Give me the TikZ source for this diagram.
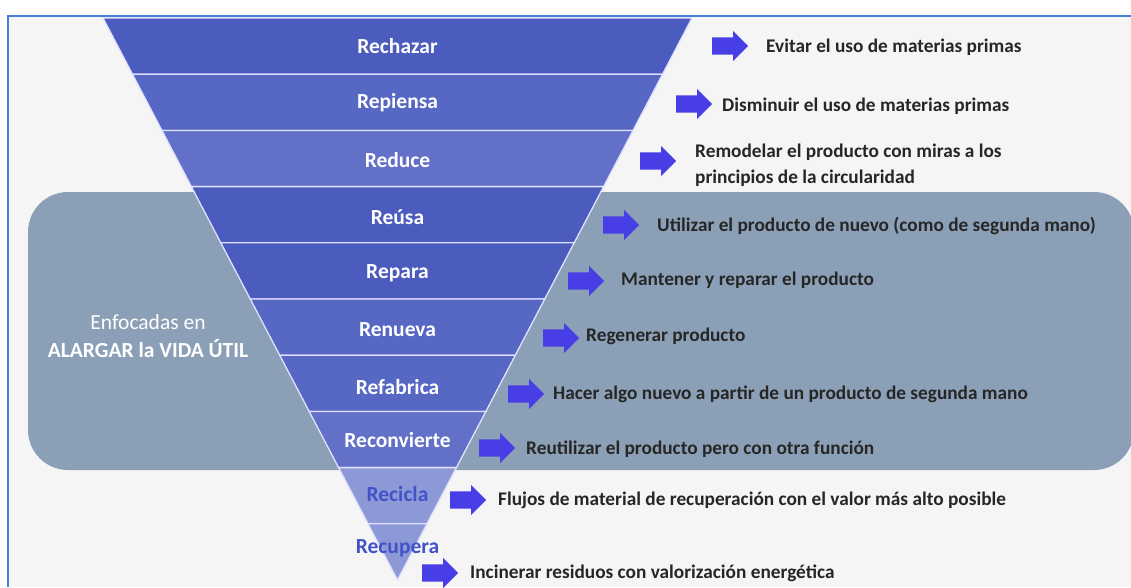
\documentclass[tikz,border=0pt]{standalone}
\usepackage{fontspec}
\setmainfont{Carlito}
\usetikzlibrary{shapes.arrows,positioning}

\definecolor{frameblue}{RGB}{74,126,216}
\definecolor{paper}{RGB}{245,245,245}
\definecolor{lifebox}{RGB}{139,160,182}
\definecolor{sliceA}{RGB}{75,92,190}
\definecolor{sliceB}{RGB}{86,103,196}
\definecolor{sliceC}{RGB}{98,112,200}
\definecolor{sliceL}{RGB}{141,152,214}
\definecolor{lowtext}{RGB}{66,82,200}
\definecolor{arrowblue}{RGB}{72,62,230}
\definecolor{inktext}{RGB}{38,38,38}

\tikzset{
	slice/.style={draw=white!88!blue, line width=1.3pt},
	stage/.style={font=\fontsize{21.5}{23}\selectfont\bfseries, text=white, inner sep=0pt},
	lowstage/.style={stage, text=lowtext},
	bigarrow/.style={single arrow, fill=arrowblue, draw=none, inner sep=8.5pt,
		single arrow head extend=6.5pt, single arrow head indent=0pt,
		minimum height=36pt, anchor=west},
	note/.style={font=\fontsize{19.3}{26.5}\selectfont\bfseries, text=inktext, inner sep=0pt, anchor=west, align=left}
}

\begin{document}
\begin{tikzpicture}[x=1pt, y=-1pt]
	% page and frame
	\useasboundingbox (0,0) rectangle (1131,587);
	\fill[white] (0,0) rectangle (1131,587);
	\fill[paper] (8,16) rectangle (1131,587);
	\draw[frameblue, line width=1.5pt] (8,587) -- (8,16) -- (1131,16);

	% grey band for the useful life group
	\fill[lifebox, rounded corners=40pt] (28,192) rectangle (1134,470);
	\node[text=white, inner sep=0pt, align=center, font=\fontsize{21.5}{28}\selectfont] (life) at (148,336)
		{Enfocadas en\\ \textbf{ALARGAR la VIDA ÚTIL}};

	% funnel slices, apex at (397.5,580)
	\foreach \i/\col in {0/sliceA,1/sliceB,2/sliceC,3/sliceA,4/sliceA,5/sliceB,6/sliceB,7/sliceC,8/sliceL}{
		\pgfmathsetmacro\ya{18+56.2*\i}
		\pgfmathsetmacro\yb{18+56.2*(\i+1)}
		\pgfmathsetmacro\wa{(580-\ya)/562*294.5}
		\pgfmathsetmacro\wb{(580-\yb)/562*294.5}
		\filldraw[slice, fill=\col] (397.5-\wa,\ya) -- (397.5+\wa,\ya) -- (397.5+\wb,\yb) -- (397.5-\wb,\yb) -- cycle;
	}
	\filldraw[slice, fill=sliceL] (368,523.8) -- (427,523.8) -- (397.5,580) -- cycle;

	% stage names
	\node[stage] (rechazar) at (397.5,46) {Rechazar};
	\node[stage] (repiensa) at (397.5,103) {Repiensa};
	\node[stage] (reduce) at (397.5,160) {Reduce};
	\node[stage] (reusa) at (397.5,217) {Reúsa};
	\node[stage] (repara) at (397.5,273) {Repara};
	\node[stage] (renueva) at (397.5,330) {Renueva};
	\node[stage] (refabrica) at (397.5,387) {Refabrica};
	\node[stage] (reconvierte) at (397.5,440) {Reconvierte};
	\node[lowstage] (recicla) at (397.5,494) {Recicla};
	\node[lowstage] (recupera) at (397.5,548) {Recupera};

	% arrows and descriptions
	\node[bigarrow] (a1) at (712,46) {};
	\node[bigarrow] (a2) at (676,104) {};
	\node[bigarrow] (a3) at (640,161) {};
	\node[bigarrow] (a4) at (603,225) {};
	\node[bigarrow] (a5) at (568,281) {};
	\node[bigarrow] (a6) at (543,338) {};
	\node[bigarrow] (a7) at (508,394) {};
	\node[bigarrow] (a8) at (479,448) {};
	\node[bigarrow] (a9) at (450,500) {};
	\node[bigarrow] (a10) at (422,573) {};

	\node[note] (d1) at (766,47) {Evitar el uso de materias primas};
	\node[note] (d2) at (722,106) {Disminuir el uso de materias primas};
	\node[note] (d3) at (695,165) {Remodelar el producto con miras a los\\principios de la circularidad};
	\node[note] (d4) at (657,226) {Utilizar el producto de nuevo (como de segunda mano)};
	\node[note] (d5) at (621,280) {Mantener y reparar el producto};
	\node[note] (d6) at (586,336) {Regenerar producto};
	\node[note] (d7) at (553,394) {Hacer algo nuevo a partir de un producto de segunda mano};
	\node[note] (d8) at (526,449) {Reutilizar el producto pero con otra función};
	\node[note] (d9) at (498,500) {Flujos de material de recuperación con el valor más alto posible};
	\node[note] (d10) at (470,573) {Incinerar residuos con valorización energética};
\end{tikzpicture}
\end{document}
